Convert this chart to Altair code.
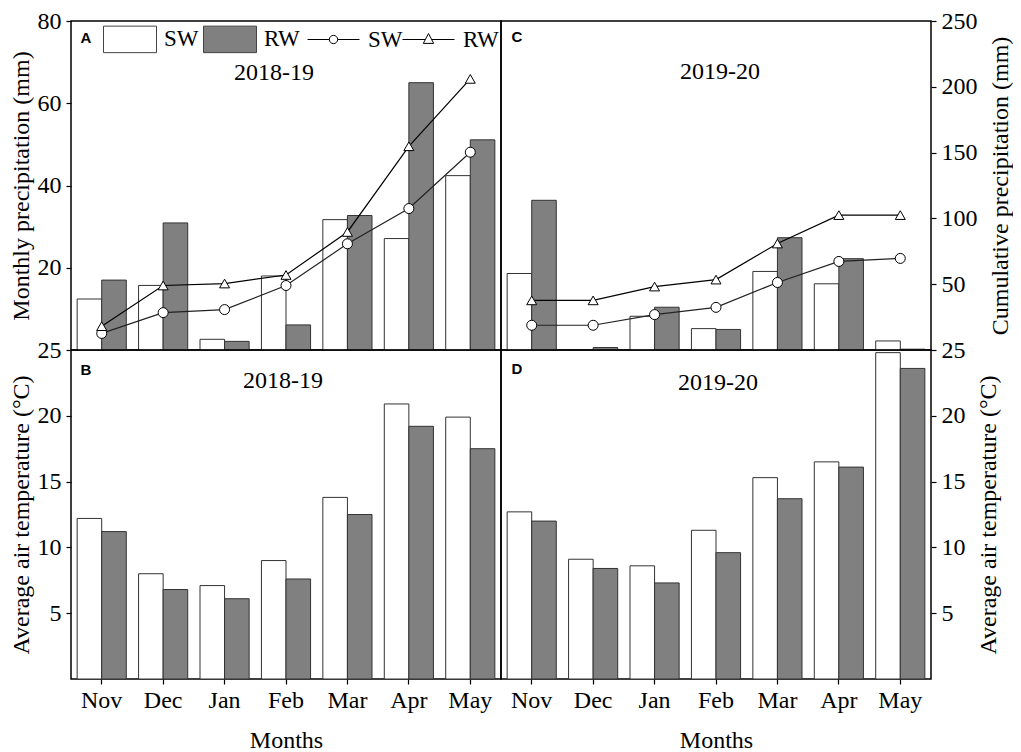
import altair as alt
import pandas as pd

months = ["Nov", "Dec", "Jan", "Feb", "Mar", "Apr", "May"]
series = ["SW", "RW"]
key_series = ["SW line", "RW line"]

# Monthly precipitation (mm)
precip_sw_1819 = [12.4, 15.7, 2.6, 18.0, 31.7, 27.1, 42.4]
precip_rw_1819 = [17.0, 30.9, 2.1, 6.1, 32.7, 65.0, 51.1]
precip_sw_1920 = [18.6, 0.0, 8.2, 5.2, 19.1, 16.1, 2.2]
precip_rw_1920 = [36.4, 0.6, 10.4, 5.0, 27.3, 22.2, 0.2]

# Cumulative precipitation (mm)
cum_sw_1819 = [12.6, 28.4, 30.7, 49.0, 80.7, 107.5, 150.3]
cum_rw_1819 = [18.1, 49.0, 50.5, 57.0, 89.7, 154.8, 206.0]
cum_sw_1920 = [18.8, 18.8, 26.9, 32.4, 51.3, 67.3, 69.6]
cum_rw_1920 = [37.7, 37.7, 48.2, 53.5, 80.9, 102.5, 102.5]

# Average air temperature (°C)
temp_sw_1819 = [12.2, 8.0, 7.1, 9.0, 13.8, 20.9, 19.9]
temp_rw_1819 = [11.2, 6.8, 6.1, 7.6, 12.5, 19.2, 17.5]
temp_sw_1920 = [12.7, 9.1, 8.6, 11.3, 15.3, 16.5, 24.8]
temp_rw_1920 = [12.0, 8.4, 7.3, 9.6, 13.7, 16.1, 23.6]

W, H = 430, 329
SERIF = "Liberation Serif"
SANS = "Liberation Sans"

CIRCLE_LINE = ("M-1,0L-0.16,0M0.16,0L1,0"
               "M-0.16,0C-0.16,-0.088 -0.088,-0.16 0,-0.16C0.088,-0.16 0.16,-0.088 0.16,0"
               "C0.16,0.088 0.088,0.16 0,0.16C-0.088,0.16 -0.16,0.088 -0.16,0Z")
TRI_LINE = "M-1,0L-0.12,0M0.12,0L1,0M0,-0.23L0.2,0.15L-0.2,0.15Z"
RECT = "M-1,-0.5H1V0.5H-1Z"
KEY_SIZE = 2704


def bar_frame(sw, rw):
    return pd.DataFrame({
        "month": months * 2,
        "bar_series": ["SW"] * len(months) + ["RW"] * len(months),
        "value": list(sw) + list(rw),
    })


def line_frame(sw, rw):
    return pd.DataFrame({
        "month": months * 2,
        "idx": list(range(len(months))) * 2,
        "line_series": ["SW"] * len(months) + ["RW"] * len(months),
        "legend_series": [key_series[0]] * len(months) + [key_series[1]] * len(months),
        "cum": list(sw) + list(rw),
    })


def x_enc(bottom):
    if bottom:
        axis = alt.Axis(title="Months", labelAngle=0, labelPadding=4, titlePadding=16)
    else:
        axis = None
    return alt.X("month:N", sort=months,
                 scale=alt.Scale(domain=months, paddingInner=0.2, paddingOuter=0.1),
                 axis=axis)


fill_legend = alt.Legend(
    orient="none", legendX=32, legendY=-9, direction="horizontal", title=None,
    symbolType=RECT, symbolSize=2809, symbolStrokeColor="#444", symbolStrokeWidth=1,
    labelFont=SERIF, labelFontSize=23,
    labelColor="black", labelOffset=7, columnPadding=2, padding=0,
)


def key_legend(x, path):
    return alt.Legend(
        orient="none", legendX=x, legendY=-8, direction="horizontal", title=None,
        symbolType=path, symbolSize=KEY_SIZE, symbolStrokeColor="black", symbolStrokeWidth=1,
        symbolOpacity=1,
        labelFont=SERIF, labelFontSize=23, labelColor="black",
        labelExpr="split(datum.label, ' ')[0]",
        labelOffset=8, padding=0,
    )


def bars(df, ydomain, axis, bottom, legend):
    return alt.Chart(df).mark_bar(stroke="#333", strokeWidth=1).encode(
        x=x_enc(bottom),
        xOffset=alt.XOffset("bar_series:N", sort=series, scale=alt.Scale(domain=series)),
        y=alt.Y("value:Q", scale=alt.Scale(domain=ydomain, nice=False, zero=True), axis=axis),
        fill=alt.Fill("bar_series:N", scale=alt.Scale(domain=series, range=["white", "#808080"]),
                      legend=legend),
    )


def lines(df, axis, with_legend):
    ysc = alt.Scale(domain=[0, 250], nice=False)
    ln = alt.Chart(df).mark_line(strokeWidth=1.2).encode(
        x=x_enc(False),
        y=alt.Y("cum:Q", scale=ysc, axis=axis),
        order=alt.Order("idx:Q"),
        stroke=alt.Stroke("line_series:N", scale=alt.Scale(domain=series, range=["#222222", "black"]),
                          legend=None),
    )
    pt = alt.Chart(df).mark_point(filled=True, fill="white", stroke="black", strokeWidth=1,
                                  size=100, opacity=1).encode(
        x=x_enc(False),
        y=alt.Y("cum:Q", scale=ysc, axis=None),
        shape=alt.Shape("line_series:N", scale=alt.Scale(domain=series, range=["circle", "triangle-up"]),
                        legend=None),
    )
    out = [ln, pt]
    if with_legend:
        for name, x, path in [(key_series[0], 236, CIRCLE_LINE), (key_series[1], 331, TRI_LINE)]:
            key = alt.Chart(df).transform_filter(f"datum.legend_series == '{name}' && false").mark_bar(
                stroke="black", strokeWidth=1
            ).encode(
                fill=alt.Fill("legend_series:N",
                              scale=alt.Scale(domain=[name], range=["white"]),
                              legend=key_legend(x, path)),
            )
            out.append(key)
    return out


def label(txt, x, y, font, size, weight):
    return alt.Chart(pd.DataFrame({"t": [txt]})).mark_text(
        font=font, fontSize=size, fontWeight=weight, align="center", baseline="middle", color="black"
    ).encode(x=alt.value(x), y=alt.value(y), text="t:N")


left_precip_axis = alt.Axis(values=[20, 40, 60, 80], title="Monthly precipitation (mm)",
                            orient="left", titlePadding=4)
right_cum_axis = alt.Axis(values=[50, 100, 150, 200, 250], title="Cumulative precipitation (mm)",
                          orient="right", titleAngle=270, titleBaseline="top", titlePadding=11)
left_temp_axis = alt.Axis(values=[5, 10, 15, 20, 25], title="Average air temperature (°C)",
                          orient="left", titlePadding=4)
right_temp_axis = alt.Axis(values=[5, 10, 15, 20, 25], title="Average air temperature (°C)",
                           orient="right", titleAngle=270, titleBaseline="top", titlePadding=11)

pA = alt.layer(
    bars(bar_frame(precip_sw_1819, precip_rw_1819), [0, 80], left_precip_axis, False, fill_legend),
    *lines(line_frame(cum_sw_1819, cum_rw_1819), None, True),
    label("A", 15, 17, SANS, 15, "bold"),
    label("2018-19", 203, 52, SERIF, 24, "normal"),
).resolve_scale(y="independent", fill="independent").resolve_legend(
    fill="independent"
).properties(width=W, height=H)

pC = alt.layer(
    bars(bar_frame(precip_sw_1920, precip_rw_1920), [0, 80], None, False, None),
    *lines(line_frame(cum_sw_1920, cum_rw_1920), right_cum_axis, False),
    label("C", 16, 16, SANS, 15, "bold"),
    label("2019-20", 219, 51, SERIF, 24, "normal"),
).resolve_scale(y="independent").properties(width=W, height=H)

pB = alt.layer(
    bars(bar_frame(temp_sw_1819, temp_rw_1819), [0, 25], left_temp_axis, True, None),
    label("B", 15, 20, SANS, 15, "bold"),
    label("2018-19", 212, 31, SERIF, 24, "normal"),
).properties(width=W, height=H)

pD = alt.layer(
    bars(bar_frame(temp_sw_1920, temp_rw_1920), [0, 25], right_temp_axis, True, None),
    label("D", 16, 19, SANS, 15, "bold"),
    label("2019-20", 217, 33, SERIF, 24, "normal"),
).properties(width=W, height=H)

chart = alt.concat(pA, pC, pB, pD, columns=2, spacing=0, bounds="flush").resolve_scale(
    fill="independent", stroke="independent", shape="independent"
).resolve_legend(
    fill="independent", stroke="independent", shape="independent"
).properties(padding=0, background="white").configure_view(
    stroke="black", strokeWidth=1.5
).configure_axis(
    labelFont=SERIF, labelFontSize=24, labelColor="black",
    titleFont=SERIF, titleFontSize=24, titleFontWeight="normal", titleColor="black",
    tickColor="black", tickSize=5, tickWidth=1.2, domain=False, grid=False, labelPadding=5,
)

chart.save("out.html", embed_options={"renderer": "svg", "actions": False})
